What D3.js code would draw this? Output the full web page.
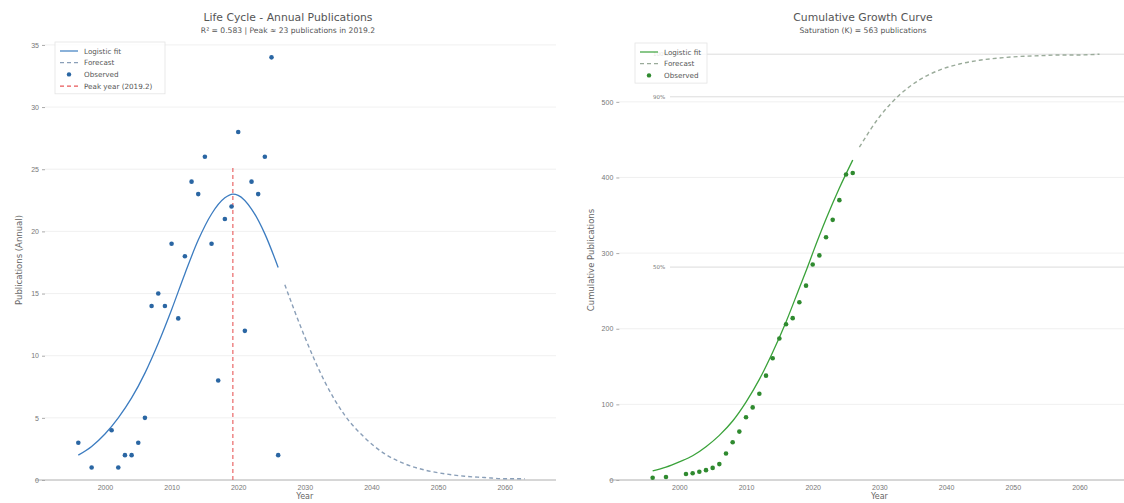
<!DOCTYPE html>
<html>
<head>
<meta charset="utf-8">
<script src="https://cdn.jsdelivr.net/npm/d3@7"></script>
<style>
  body { margin: 0; background: #fff; }
  svg { font-family: "DejaVu Sans", sans-serif; }
  .tick text { fill: #777; font-size: 7px; }
</style>
</head>
<body>
<div id="chart"></div>
<script>
// observed annual publications
var obsYears = [1996, 1998, 2001, 2002, 2003, 2004, 2005, 2006, 2007, 2008, 2009, 2010, 2011, 2012,
                2013, 2014, 2015, 2016, 2017, 2018, 2019, 2020, 2021, 2022, 2023, 2024, 2025, 2026];
var obsAnnual = [3, 1, 4, 1, 2, 2, 3, 5, 14, 15, 14, 19, 13, 18,
                 24, 23, 26, 19, 8, 21, 22, 28, 12, 24, 23, 26, 34, 2];
var obsCumulative = [3, 4, 8, 9, 11, 13, 16, 21, 35, 50, 64, 83, 96, 114,
                     138, 161, 187, 206, 214, 235, 257, 285, 297, 321, 344, 370, 404, 406];

// fitted curves
var fitYears = [1996, 1998, 2000, 2002, 2004, 2006, 2008, 2010, 2012, 2014, 2016, 2018, 2019.2, 2020, 2022, 2024, 2026];
var fitAnnual = [2.0, 2.7, 3.7, 5.0, 6.6, 8.6, 11.0, 13.7, 16.6, 19.3, 21.4, 22.7, 23.0, 22.9, 21.8, 19.8, 17.1];
var fitCumulative = [12, 17, 24, 32, 44, 59, 78, 103, 133, 169, 209, 254, 281, 300, 345, 386, 423];

var fcYears = [2027, 2030, 2033, 2036, 2039, 2042, 2045, 2048, 2051, 2054, 2057, 2060, 2063];
var fcAnnual = [15.7, 11.5, 7.9, 5.2, 3.4, 2.1, 1.3, 0.8, 0.5, 0.3, 0.2, 0.1, 0.1];
var fcCumulative = [440, 480, 509, 529, 542, 550, 555, 558, 560, 561, 562, 562, 563];

var peakYear = 2019.2, peakTop = 25.3;
var saturation = 563;
var refLevels = [1.0, 0.9, 0.5];
var refLabels = ["100%", "90%", "50%"];

var xTicks = [2000, 2010, 2020, 2030, 2040, 2050, 2060];
var yTicksLeft = [0, 5, 10, 15, 20, 25, 30, 35];
var yTicksRight = [0, 100, 200, 300, 400, 500];

var W = 1124, H = 503;
var svg = d3.select("#chart").append("svg").attr("width", W).attr("height", H);

function panel(opt) {
  var x = d3.scaleLinear().domain([1991, 2063.5]).range(opt.xr);
  var y = d3.scaleLinear().domain(opt.yd).range([480, 30]);
  var g = svg.append("g");

  // grid
  g.selectAll(".grid").data(opt.yticks.slice(1)).enter().append("line")
    .attr("x1", opt.xr[0]).attr("x2", opt.xend)
    .attr("y1", function(d){ return y(d); }).attr("y2", function(d){ return y(d); })
    .style("stroke", "#ececec").style("stroke-width", 0.8);

  g.append("line").attr("x1", opt.xr[0] - 10).attr("x2", opt.xend).attr("y1", 480).attr("y2", 480)
    .style("stroke", "#999").style("stroke-width", 0.8);
  var xa = g.append("g").attr("transform", "translate(0,480)")
    .call(d3.axisBottom(x).tickValues(xTicks).tickFormat(d3.format("d")).tickSize(0).tickPadding(5));
  xa.select(".domain").remove();

  var ya = g.append("g").attr("transform", "translate(" + opt.xr[0] + ",0)")
    .call(d3.axisLeft(y).tickValues(opt.yticks).tickSize(3).tickPadding(3));
  ya.select(".domain").remove();
  ya.selectAll(".tick line").style("stroke", "#aaa");

  g.append("text").attr("x", x(2030)).attr("y", 499)
    .attr("text-anchor", "middle").style("font-size", "8px").style("fill", "#666").text("Year");
  g.append("text").attr("transform", "translate(" + opt.ytx + ",260) rotate(-90)")
    .attr("text-anchor", "middle").style("font-size", "8.5px").style("fill", "#666").text(opt.ytitle);

  g.append("text").attr("x", opt.tx).attr("y", 21)
    .attr("text-anchor", "middle").style("font-size", "10.8px").style("fill", "#555").text(opt.title);
  g.append("text").attr("x", opt.tx).attr("y", 32.5)
    .attr("text-anchor", "middle").style("font-size", "7.6px").style("fill", "#555").text(opt.subtitle);

  return {g: g, x: x, y: y};
}

// ---- left: annual
var L = panel({xr: [45, 528], xend: 556, tx: 288, yd: [0, 36.2], yticks: yTicksLeft, ytx: 22,
  ytitle: "Publications (Annual)", title: "Life Cycle - Annual Publications",
  subtitle: "R\u00b2 = 0.583 | Peak \u2248 23 publications in 2019.2"});

var lineL = d3.line().curve(d3.curveMonotoneX)
  .x(function(d){ return L.x(d[0]); }).y(function(d){ return L.y(d[1]); });

L.g.append("line").attr("x1", L.x(peakYear)).attr("x2", L.x(peakYear))
  .attr("y1", L.y(0)).attr("y2", L.y(peakTop))
  .style("stroke", "#e8585a").style("stroke-width", 1.1).style("stroke-dasharray", "4,3");

L.g.append("path").datum(d3.zip(fitYears, fitAnnual)).attr("d", lineL)
  .style("fill", "none").style("stroke", "#3c7cc0").style("stroke-width", 1.3);
L.g.append("path").datum(d3.zip(fcYears, fcAnnual)).attr("d", lineL)
  .style("fill", "none").style("stroke", "#8a9fb8").style("stroke-width", 1.4).style("stroke-dasharray", "4,3");

L.g.selectAll(".dot").data(d3.zip(obsYears, obsAnnual)).enter().append("circle")
  .attr("cx", function(d){ return L.x(d[0]); }).attr("cy", function(d){ return L.y(d[1]); })
  .attr("r", 2.3).style("fill", "#2a66a3");

// ---- right: cumulative
var R = panel({xr: [619.3, 1102.8], xend: 1124, tx: 863, yd: [0, 595], yticks: yTicksRight, ytx: 594,
  ytitle: "Cumulative Publications", title: "Cumulative Growth Curve",
  subtitle: "Saturation (K) = " + saturation + " publications"});

var lineR = d3.line().curve(d3.curveMonotoneX)
  .x(function(d){ return R.x(d[0]); }).y(function(d){ return R.y(d[1]); });

refLevels.forEach(function(p, i) {
  R.g.append("line").attr("x1", 670).attr("x2", 1124)
    .attr("y1", R.y(p * saturation)).attr("y2", R.y(p * saturation))
    .style("stroke", "#d8d8d8").style("stroke-width", 0.9);
  R.g.append("text").attr("x", 653).attr("y", R.y(p * saturation) + 2)
    .style("font-size", "5.5px").style("fill", "#777").text(refLabels[i]);
});

R.g.append("path").datum(d3.zip(fitYears, fitCumulative)).attr("d", lineR)
  .style("fill", "none").style("stroke", "#3aa23a").style("stroke-width", 1.3);
R.g.append("path").datum(d3.zip(fcYears, fcCumulative)).attr("d", lineR)
  .style("fill", "none").style("stroke", "#9aab9a").style("stroke-width", 1.4).style("stroke-dasharray", "4,3");

R.g.selectAll(".dot").data(d3.zip(obsYears, obsCumulative)).enter().append("circle")
  .attr("cx", function(d){ return R.x(d[0]); }).attr("cy", function(d){ return R.y(d[1]); })
  .attr("r", 2.3).style("fill", "#2f8a2f");

// ---- legends
function legend(x0, y0, w, items) {
  var lg = svg.append("g").attr("transform", "translate(" + x0 + "," + y0 + ")");
  lg.append("rect").attr("width", w).attr("height", items.length * 11.7 + 5)
    .style("fill", "#fff").style("fill-opacity", 0.8).style("stroke", "#e4e4e4").style("stroke-width", 0.8);
  items.forEach(function(it, i) {
    var cy = 9 + i * 11.7;
    if (it.kind == "dot") {
      lg.append("circle").attr("cx", 14).attr("cy", cy).attr("r", 2.2).style("fill", it.color);
    } else {
      lg.append("line").attr("x1", 5).attr("x2", 23).attr("y1", cy).attr("y2", cy)
        .style("stroke", it.color).style("stroke-width", 1.2)
        .style("stroke-dasharray", it.kind == "dash" ? "4,3" : null);
    }
    lg.append("text").attr("x", 29).attr("y", cy + 2.6).style("font-size", "7.2px").style("fill", "#555").text(it.label);
  });
}
legend(55, 42, 110, [
  {kind: "line", color: "#3c7cc0", label: "Logistic fit"},
  {kind: "dash", color: "#8a9fb8", label: "Forecast"},
  {kind: "dot", color: "#2a66a3", label: "Observed"},
  {kind: "dash", color: "#e8585a", label: "Peak year (" + peakYear + ")"}
]);
legend(635, 43, 72, [
  {kind: "line", color: "#3aa23a", label: "Logistic fit"},
  {kind: "dash", color: "#9aab9a", label: "Forecast"},
  {kind: "dot", color: "#2f8a2f", label: "Observed"}
]);
</script>
</body>
</html>
